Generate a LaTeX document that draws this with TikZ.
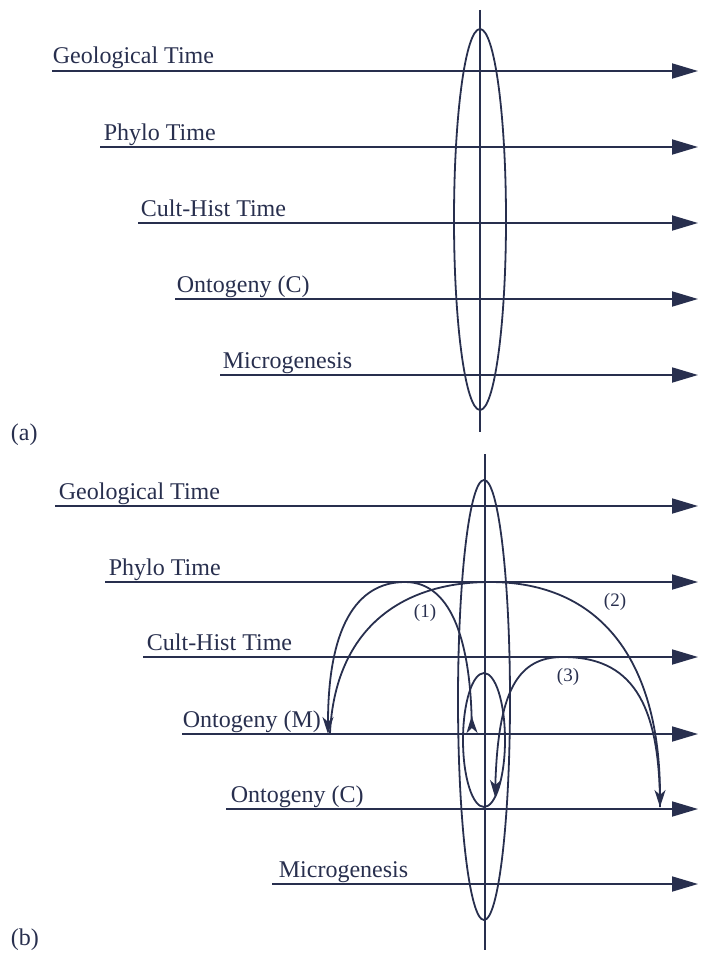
\documentclass[tikz,border=0pt]{standalone}
\usepackage{fontspec}
\setmainfont{Liberation Serif}
\definecolor{ink}{RGB}{40,47,78}
\usetikzlibrary{arrows.meta,shapes.geometric}

\begin{document}
\begin{tikzpicture}[x=1pt, y=-1pt, line width=1.8pt, draw=ink,
  timeline/.style={draw=ink, -{Triangle[length=26pt,width=15pt]}},
  timelabel/.style={anchor=base west, inner sep=0pt, text=ink, font=\fontsize{24}{28}\selectfont},
  lens/.style={draw=ink, ellipse, inner sep=0pt},
  looparrow/.style={draw=ink, -{Stealth[length=17pt,width=11pt,inset=5pt]}},
  looplabel/.style={inner sep=0pt, text=ink, font=\fontsize{19}{22}\selectfont}]
  \useasboundingbox (0,0) rectangle (704,955);

  %% ---------------- panel (a) ----------------
  \coordinate (axisA-t) at (480,10);
  \coordinate (axisA-b) at (480,432);
  \node[lens, minimum width=52pt, minimum height=381pt] (lensA) at (480,219.5) {};
  \draw (axisA-t) -- (axisA-b);

  \coordinate (geoA-s) at (52,71);    \coordinate (geoA-e) at (698,71);
  \coordinate (phyA-s) at (100,147);  \coordinate (phyA-e) at (698,147);
  \coordinate (culA-s) at (138,223);  \coordinate (culA-e) at (698,223);
  \coordinate (ontA-s) at (175,299);  \coordinate (ontA-e) at (698,299);
  \coordinate (micA-s) at (220,375);  \coordinate (micA-e) at (698,375);

  \draw[timeline] (geoA-s) -- (geoA-e);
  \draw[timeline] (phyA-s) -- (phyA-e);
  \draw[timeline] (culA-s) -- (culA-e);
  \draw[timeline] (ontA-s) -- (ontA-e);
  \draw[timeline] (micA-s) -- (micA-e);

  \node[timelabel] (geoA) at (52,64) {Geological Time};
  \node[timelabel] (phyA) at (103,140) {Phylo Time};
  \node[timelabel] (culA) at (140,216) {Cult-Hist Time};
  \node[timelabel] (ontA) at (176,292) {Ontogeny (C)};
  \node[timelabel] (micA) at (222,368) {Microgenesis};

  \node[timelabel] (tagA) at (10,440) {(a)};

  %% ---------------- panel (b) ----------------
  \coordinate (axisB-t) at (485,454);
  \coordinate (axisB-b) at (485,950);
  \node[lens, minimum width=52pt, minimum height=440pt] (lensB) at (484,700) {};
  \node[lens, minimum width=42pt, minimum height=134pt] (innerB) at (484,740) {};
  \draw (axisB-t) -- (axisB-b);

  \coordinate (geoB-s) at (55,506);   \coordinate (geoB-e) at (698,506);
  \coordinate (phyB-s) at (105,582);  \coordinate (phyB-e) at (698,582);
  \coordinate (culB-s) at (143,657);  \coordinate (culB-e) at (698,657);
  \coordinate (omB-s) at (182,734);   \coordinate (omB-e) at (698,734);
  \coordinate (ocB-s) at (226,809);   \coordinate (ocB-e) at (698,809);
  \coordinate (micB-s) at (272,884);  \coordinate (micB-e) at (698,884);

  \draw[timeline] (geoB-s) -- (geoB-e);
  \draw[timeline] (phyB-s) -- (phyB-e);
  \draw[timeline] (culB-s) -- (culB-e);
  \draw[timeline] (omB-s) -- (omB-e);
  \draw[timeline] (ocB-s) -- (ocB-e);
  \draw[timeline] (micB-s) -- (micB-e);

  \node[timelabel] (geoB) at (58,499) {Geological Time};
  \node[timelabel] (phyB) at (108,575) {Phylo Time};
  \node[timelabel] (culB) at (146,650) {Cult-Hist Time};
  \node[timelabel] (omB) at (182,727) {Ontogeny (M)};
  \node[timelabel] (ocB) at (230,802) {Ontogeny (C)};
  \node[timelabel] (micB) at (278,877) {Microgenesis};

  \node[timelabel] (tagB) at (10,945) {(b)};

  %% loops between the time scales
  \coordinate (l1-s) at (472,733);
  \coordinate (l1-p) at (405,582);
  \coordinate (l1-e) at (328,734);
  \draw[looparrow, {Stealth[reversed,length=17pt,width=11pt,inset=5pt]}-{Stealth[length=17pt,width=11pt,inset=5pt]}]
    (l1-s) .. controls (470,650) and (455,582) .. (l1-p)
           .. controls (355,582) and (328,630) .. (l1-e);

  \coordinate (l2-s) at (330,733);
  \coordinate (l2-p) at (490,582);
  \coordinate (l2-e) at (660,807);
  \draw[looparrow] (l2-s) .. controls (335,630) and (400,582) .. (l2-p)
                          .. controls (600,582) and (660,660) .. (l2-e);

  \coordinate (l3-s) at (660,807);
  \coordinate (l3-p) at (563,657);
  \coordinate (l3-e) at (495,797);
  \draw[looparrow] (l3-s) .. controls (660,700) and (630,657) .. (l3-p)
                          .. controls (518,657) and (498,690) .. (l3-e);

  \node[looplabel] (lab1) at (425,613) {(1)};
  \node[looplabel] (lab2) at (615,602) {(2)};
  \node[looplabel] (lab3) at (568,677) {(3)};
\end{tikzpicture}
\end{document}
